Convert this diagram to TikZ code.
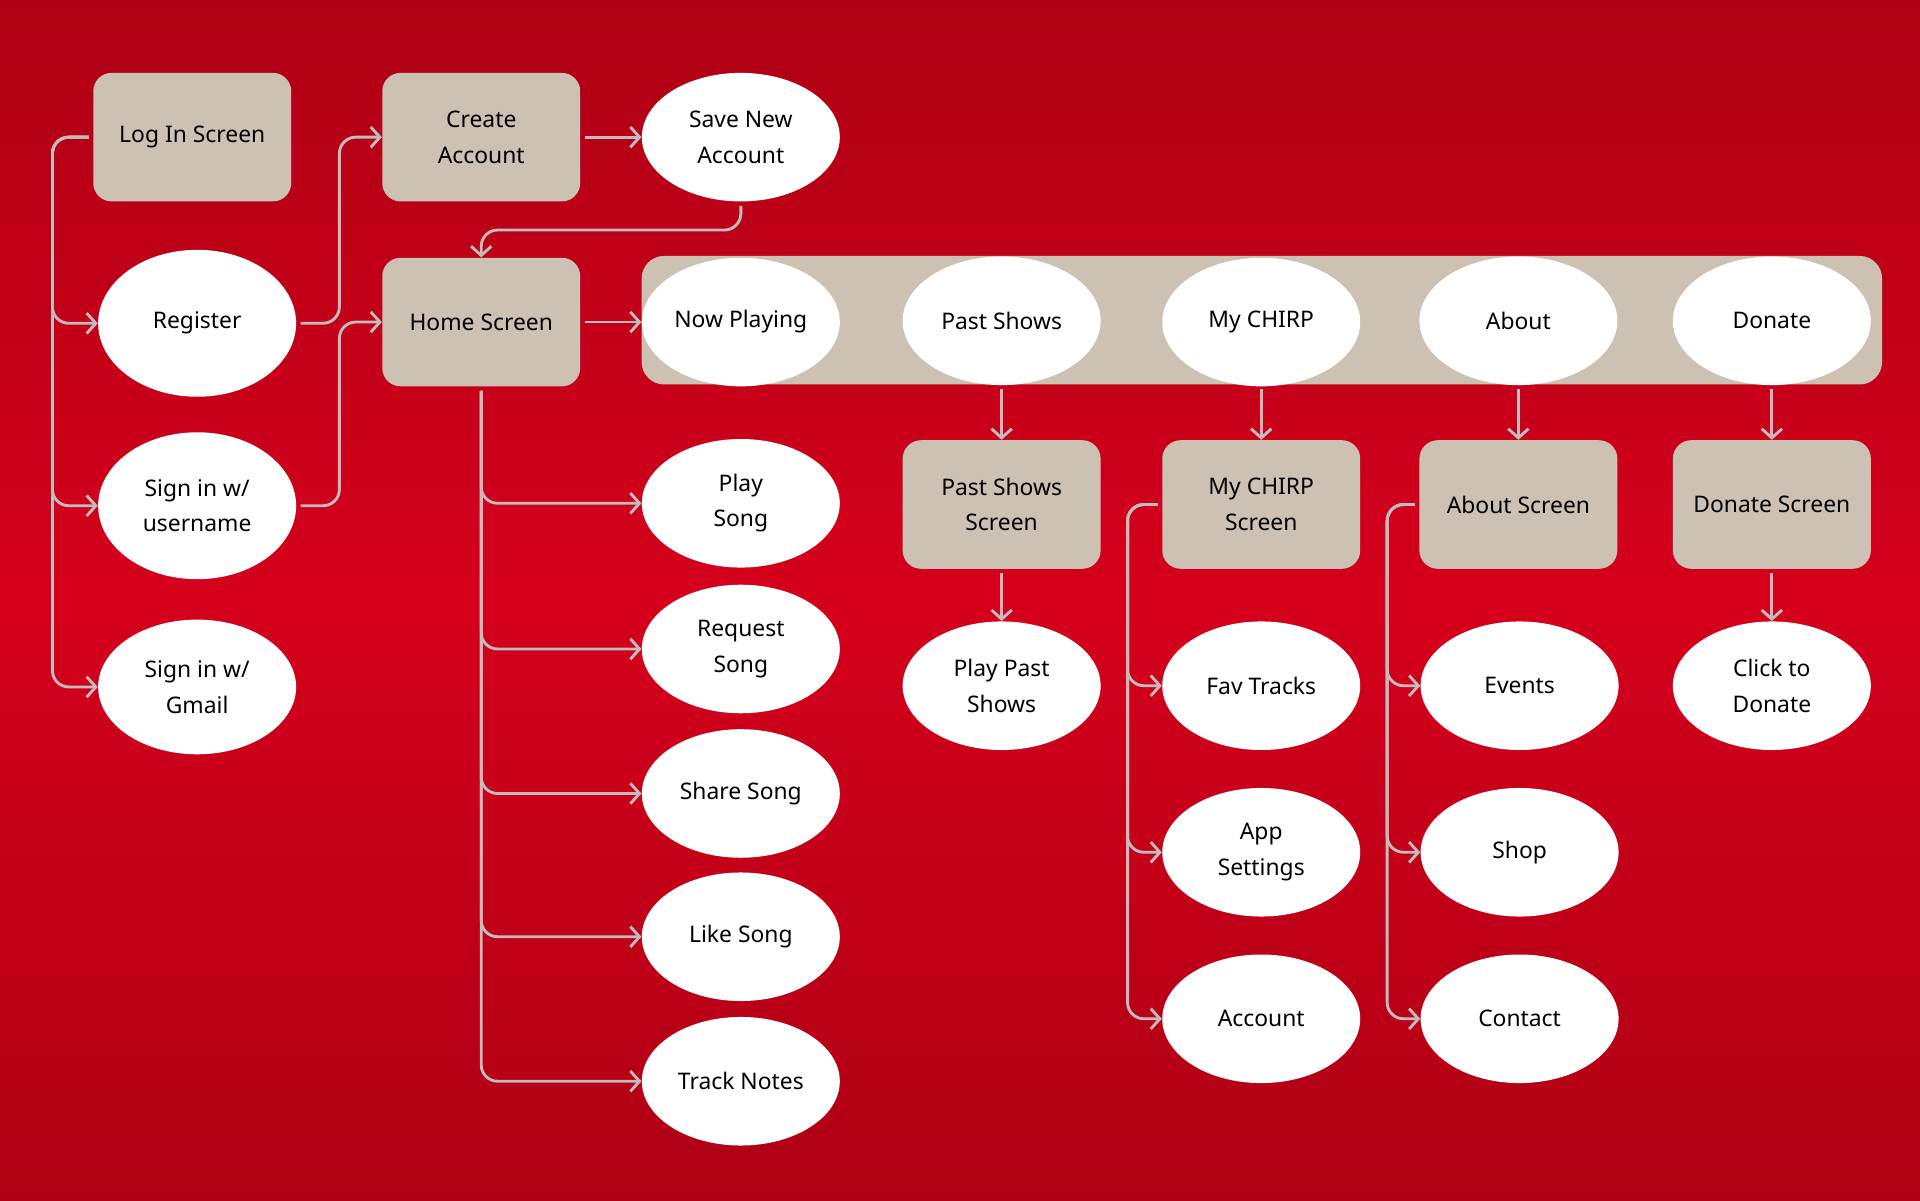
\documentclass[tikz,border=0pt]{standalone}
\usepackage{fontspec}
\setmainfont{Noto Sans}
\usetikzlibrary{arrows.meta,shapes.geometric}

\definecolor{chirpred}{HTML}{D5001C}
\definecolor{chirpdark}{HTML}{AE0014}
\definecolor{boxtan}{HTML}{CDC1B4}
\definecolor{wire}{HTML}{C2BDBC}
\newcommand{\chirpfont}{\fontsize{11.2}{17.4}\selectfont}

\begin{document}
\begin{tikzpicture}[x=0.6pt,y=-0.6pt,
  screen/.style={fill=boxtan, rounded corners=9pt, minimum width=97pt,
    minimum height=63pt, inner sep=0pt, align=center, font=\chirpfont},
  action/.style={ellipse, fill=white, minimum width=97pt, minimum height=63pt,
    inner sep=0pt, align=center, font=\chirpfont},
  conn/.style={draw=wire, line width=1.4pt, rounded corners=8pt, shorten <=2pt,
    -{Straight Barb[length=4.5pt,width=10pt]}}]

  % Sfondo
  \shade[top color=chirpdark, bottom color=chirpdark, middle color=chirpred]
    (0,0) rectangle (1568,980);

  % Barra di navigazione
  \node[screen, minimum width=607.8pt, rounded corners=11pt] (navbar) at (1030.5,261.5) {};

  % Accesso
  \node[screen] (login) at (157,112) {Log In Screen};
  \node[screen] (create) at (393,112) {Create\\Account};
  \node[screen] (home) at (393,263) {Home Screen};
  \node[action, minimum height=72pt] (register) at (161,264) {Register};
  \node[action, minimum height=72pt] (userlogin) at (161,413) {Sign in w/\\username};
  \node[action, minimum height=66pt] (gmaillogin) at (161,561) {Sign in w/\\Gmail};
  \node[action] (savenew) at (605,112) {Save New\\Account};

  % Menu
  \node[action] (nowplaying) at (605,263) {Now Playing};
  \node[action] (pastshows) at (818,262) {Past Shows};
  \node[action] (mychirp) at (1030,263) {My CHIRP};
  \node[action] (about) at (1240,262) {About};
  \node[action] (donate) at (1447,262) {Donate};

  % Schermate
  \node[screen] (pastscr) at (818,412) {Past Shows\\Screen};
  \node[screen] (chirpscr) at (1030,412) {My CHIRP\\Screen};
  \node[screen] (aboutscr) at (1240,412) {About Screen};
  \node[screen] (donatescr) at (1447,412) {Donate Screen};

  % Azioni
  \node[action] (playsong) at (605,411) {Play\\Song};
  \node[action] (requestsong) at (605,530) {Request\\Song};
  \node[action] (sharesong) at (605,648) {Share Song};
  \node[action] (likesong) at (605,765) {Like Song};
  \node[action] (tracknotes) at (605,883) {Track Notes};
  \node[action] (playpast) at (818,560) {Play Past\\Shows};
  \node[action] (favtracks) at (1030,560) {Fav Tracks};
  \node[action] (appsettings) at (1030,696) {App\\Settings};
  \node[action] (account) at (1030,832) {Account};
  \node[action] (events) at (1241,560) {Events};
  \node[action] (shop) at (1241,696) {Shop};
  \node[action] (contact) at (1241,832) {Contact};
  \node[action] (clickdonate) at (1447,560) {Click to\\Donate};

  % Frecce
  \foreach \n in {register,userlogin,gmaillogin}
    \draw[conn] (login.west) -- ++(-33,0) |- (\n.west);
  \draw[conn] (register.east) -- ++(35,0) |- (create.west);
  \draw[conn] (userlogin.east) -- ++(35,0) |- (home.west);
  \draw[conn] (create) -- (savenew);
  \draw[conn] (savenew.south) -- ++(0,23) -| (home.north);
  \draw[conn] (home) -- (nowplaying);
  \foreach \n in {playsong,requestsong,sharesong,likesong,tracknotes}
    \draw[conn] (home.south) |- (\n.west);
  \foreach \a/\b in {pastshows/pastscr,mychirp/chirpscr,about/aboutscr,donate/donatescr}
    \draw[conn] (\a.south |- navbar.south) -- (\b.north);
  \draw[conn] (pastscr) -- (playpast);
  \draw[conn] (donatescr) -- (clickdonate);
  \foreach \n in {favtracks,appsettings,account}
    \draw[conn] (chirpscr.west) -- ++(-28,0) |- (\n.west);
  \foreach \n in {events,shop,contact}
    \draw[conn] (aboutscr.west) -- ++(-26,0) |- (\n.west);
\end{tikzpicture}
\end{document}
